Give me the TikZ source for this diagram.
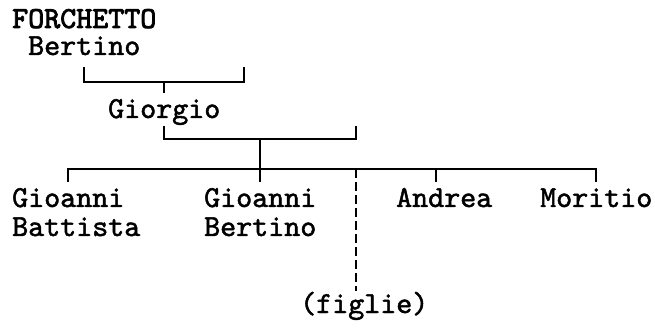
\documentclass[tikz,border=0pt]{standalone}
\usepackage{fontspec}
\newfontfamily\treefont{lmmono10-regular.otf}[FakeBold=1.6]
\newfontfamily\treefontB{lmmono10-regular.otf}[FakeBold=2.6]
\begin{document}
\begin{tikzpicture}[x=1pt,y=-1pt,
  person/.style={anchor=base west, inner sep=0pt, font=\treefont\fontsize{30.5pt}{30.5pt}\selectfont},
  family/.style={anchor=base west, inner sep=0pt, font=\treefontB\fontsize{30.5pt}{30.5pt}\selectfont},
  link/.style={line width=1.8pt, black},
  uncertain/.style={line width=1.8pt, black, dash pattern=on 9pt off 4pt}]
\useasboundingbox (0,0) rectangle (655,328);
% texts
\node[family] (forchetto) at (12,28) {FORCHETTO};
\node[person] (bertino) at (28,55) {Bertino};
\node[person] (giorgio) at (108,118) {Giorgio};
\node[person] (gbA) at (12,207) {Gioanni};
\node[person] (gbB) at (12,236) {Battista};
\node[person] (gberA) at (204,207) {Gioanni};
\node[person] (gberB) at (204,236) {Bertino};
\node[person] (andrea) at (396,207) {Andrea};
\node[person] (moritio) at (540,207) {Moritio};
\node[person] (figlie) at (300,313) {(figlie)};
% coordinates
\coordinate (b1L) at (84,67);
\coordinate (b1R) at (244,67);
\coordinate (b1M) at (164,82);
\coordinate (b1T) at (164,93);
\coordinate (b2L) at (164,126);
\coordinate (b2R) at (356,126);
\coordinate (b2M) at (260,139);
\coordinate (hL) at (68,169);
\coordinate (hR) at (596,169);
\coordinate (tGB) at (68,182);
\coordinate (tGBer) at (260,182);
\coordinate (tAnd) at (436,182);
\coordinate (tMor) at (596,182);
\coordinate (dTop) at (356,169);
\coordinate (dBot) at (356,291);
% connectors
\draw[link] (b1L) |- (b1M) -| (b1R);
\draw[link] (b1M) -- (b1T);
\draw[link] (b2L) |- (b2M) -| (b2R);
\draw[link] (b2M) -- (tGBer);
\draw[link] (tGB) -- (hL) -- (hR) -- (tMor);
\draw[link] (tAnd) -- (tAnd |- hL);
\draw[uncertain] (dTop) -- (dBot);
\end{tikzpicture}
\end{document}
